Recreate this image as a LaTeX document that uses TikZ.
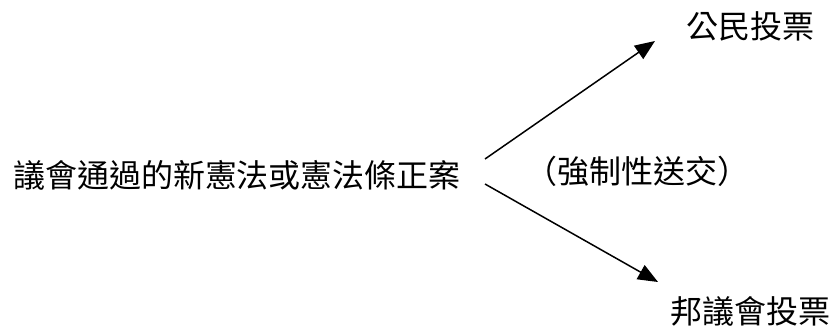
\documentclass[tikz,border=0pt]{standalone}
\usepackage{fontspec}
\newfontfamily\cjk{Noto Sans CJK TC}
\usetikzlibrary{arrows.meta}
\begin{document}
\begin{tikzpicture}[x=1pt,y=-1pt,
  lbl/.style={inner sep=0pt, font=\cjk\fontsize{32}{34}\selectfont},
  arr/.style={line width=1.5pt, -{Triangle[length=20pt,width=16pt]}}]
\useasboundingbox (0,0) rectangle (830,331);
\node[lbl] (src) at (237,175) {議會通過的新憲法或憲法條正案};
\node[lbl] (note) at (637,171) {（強制性送交）};
\node[lbl] (top) at (750,26) {公民投票};
\node[lbl] (bot) at (750,311) {邦議會投票};
\coordinate (s1) at (485,159);
\coordinate (t1) at (655,41);
\coordinate (s2) at (485,184);
\coordinate (t2) at (658,282);
\draw[arr] (s1) -- (t1);
\draw[arr] (s2) -- (t2);
\end{tikzpicture}
\end{document}
